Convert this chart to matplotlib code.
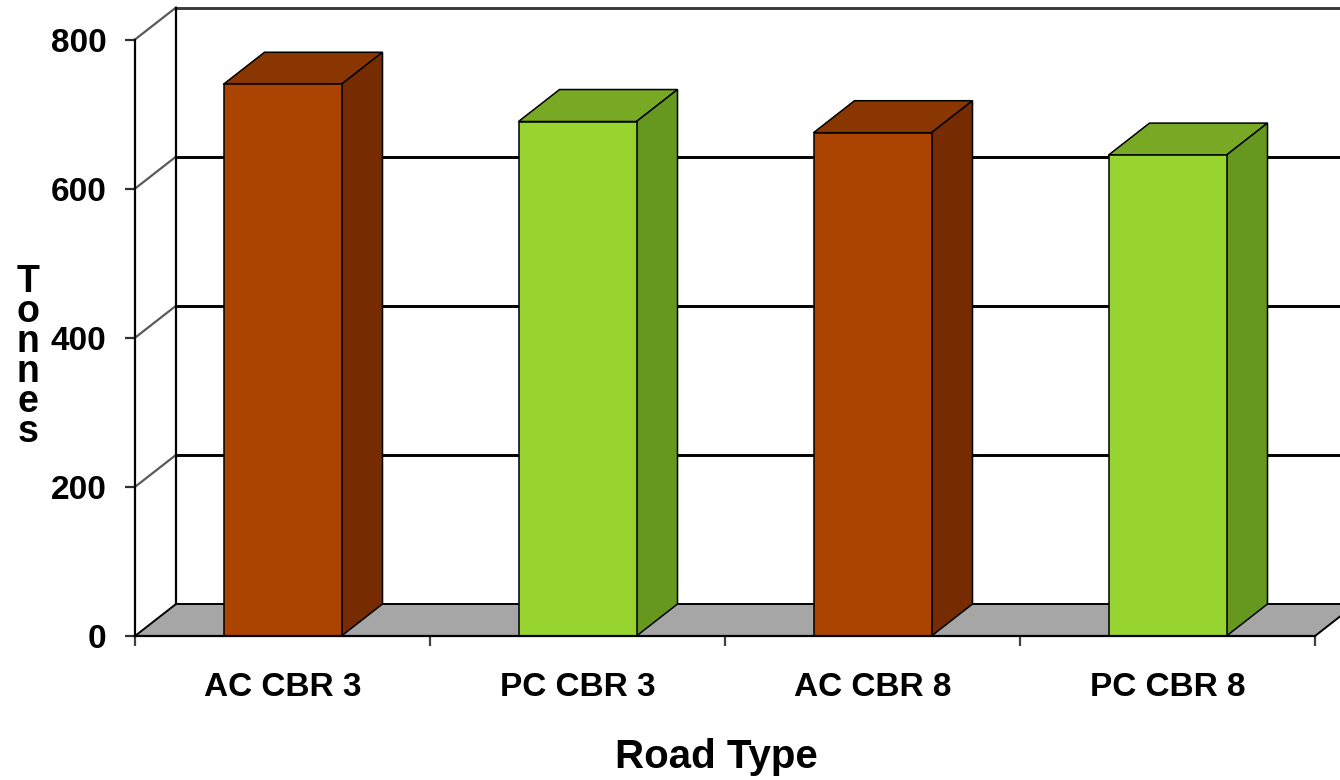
import matplotlib
matplotlib.use("Agg")
import matplotlib.pyplot as plt
from matplotlib.patches import Polygon

# Data
categories = ["AC CBR 3", "PC CBR 3", "AC CBR 8", "PC CBR 8"]
tonnes = [740, 690, 675, 645]
y_ticks = [0, 200, 400, 600, 800]

# Styling
front_colors = ["#AB4400", "#97D42F", "#AB4400", "#97D42F"]
top_colors = ["#8A3600", "#77A924", "#8A3600", "#77A924"]
side_colors = ["#772B00", "#66981F", "#772B00", "#66981F"]

plt.rcParams["font.family"] = ["Liberation Sans", "DejaVu Sans"]
plt.rcParams["font.weight"] = "bold"

fig = plt.figure(figsize=(13.4, 7.8), dpi=100)
ax = fig.add_axes([135 / 1340, 144 / 780, 1180 / 1340, 596.5 / 780])
ax.set_xlim(-0.5, len(categories) - 0.5)
ax.set_ylim(0, 800)
ax.patch.set_visible(False)
for s in ("top", "right"):
    ax.spines[s].set_visible(False)
for s in ("left", "bottom"):
    ax.spines[s].set_linewidth(1.6)
    ax.spines[s].set_zorder(6)

# Oblique depth of the 3-D box (data units)
DX, DY = 0.139, 42.9
x0, x1 = -0.5, len(categories) - 0.5

# Floor
ax.add_patch(Polygon([(x0, 0), (x1, 0), (x1 + DX, DY), (x0 + DX, DY)],
                     closed=True, fc="#A6A6A6", ec="black", lw=1.4,
                     clip_on=False, zorder=1))

# Back-wall gridlines and side-wall diagonals
for v in y_ticks[1:]:
    col = "#3A3A3A" if v == y_ticks[-1] else "black"
    ax.plot([x0 + DX, x1 + DX + 0.3], [v + DY, v + DY], color=col, lw=2.1,
            clip_on=False, zorder=1.5, solid_capstyle="butt")
    ax.plot([x0, x0 + DX], [v, v + DY], color="#5A5A5A", lw=1.6,
            clip_on=False, zorder=1.5)
ax.plot([x0 + DX, x0 + DX], [DY, y_ticks[-1] + DY], color="black", lw=1.6,
        clip_on=False, zorder=1.5)

# Bars (front faces) plus their top and side faces
bars = ax.bar(range(len(categories)), tonnes, width=0.4, color=front_colors,
              edgecolor="black", lw=1.1, zorder=5)
for b, tc, sc in zip(bars, top_colors, side_colors):
    bx, bw, bh = b.get_x(), b.get_width(), b.get_height()
    ax.add_patch(Polygon([(bx, bh), (bx + bw, bh), (bx + bw + DX, bh + DY),
                          (bx + DX, bh + DY)], closed=True, fc=tc,
                         ec="black", lw=1.1, clip_on=False, zorder=4))
    ax.add_patch(Polygon([(bx + bw, 0), (bx + bw + DX, DY),
                          (bx + bw + DX, bh + DY), (bx + bw, bh)], closed=True,
                         fc=sc, ec="black", lw=1.1, clip_on=False, zorder=4))

# Axes ticks and labels
ax.set_yticks(y_ticks)
ax.set_yticklabels([str(t) for t in y_ticks], fontsize=24, fontweight="bold")
ax.tick_params(axis="y", direction="out", length=7.2, width=1.6,
               color="#303030", pad=13.5)
ax.set_xticks([x0 + i for i in range(len(categories) + 1)])
ax.set_xticklabels([])
ax.set_xticks(range(len(categories)), minor=True)
ax.set_xticklabels(categories, minor=True, fontsize=24, fontweight="bold")
ax.tick_params(axis="x", which="major", direction="out", length=7.2,
               width=1.6, color="#404040")
ax.tick_params(axis="x", which="minor", length=0, pad=26)

fig.text(716 / 1340, 1 - 757 / 780, "Road Type", ha="center", va="center",
         fontsize=29, fontweight="bold")
fig.text(28 / 1340, 1 - 357 / 780, "T\no\nn\nn\ne\ns", ha="center",
         va="center", fontsize=27, fontweight="bold", linespacing=0.78)

fig.savefig("out.png", dpi=100)
